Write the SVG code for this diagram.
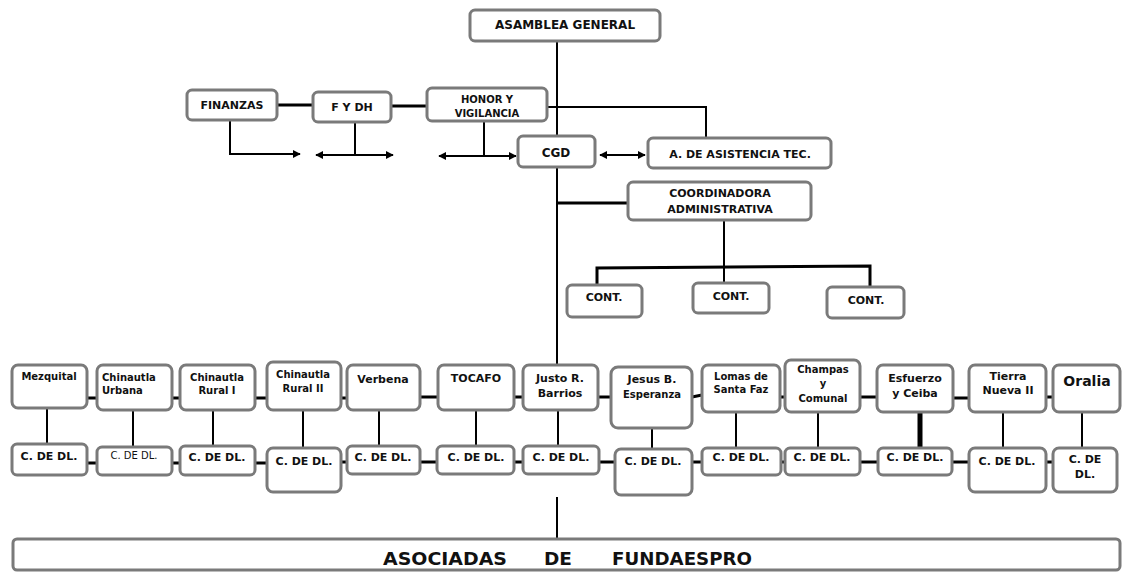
<svg xmlns="http://www.w3.org/2000/svg" width="1124" height="572" viewBox="0 0 1124 572">
<style>
.b{fill:#fff;stroke:#7a7a7a;stroke-width:3}
.t{font-family:"DejaVu Sans",Verdana,sans-serif;font-weight:bold;font-size:11px;fill:#111;text-anchor:middle}
.s{font-size:10px}
.a{font-family:"DejaVu Sans",Verdana,sans-serif;font-weight:bold;font-size:18px;fill:#111}
.c{stroke:#000;stroke-width:2;fill:none}
.k{stroke:#000;stroke-width:3;fill:none}
</style>
<defs>
<marker id="ah" viewBox="0 0 10 10" refX="9" refY="5" markerWidth="4" markerHeight="4" orient="auto-start-reverse"><path d="M0,0L10,5L0,10z" fill="#000"/></marker>
</defs>
<rect width="1124" height="572" fill="#fff"/>
<g id="connectors">
<path class="c" d="M557,41V365"/>
<path class="c" d="M547,107H706V137"/>
<path class="k" d="M277,105H313"/>
<path class="k" d="M391,106H427"/>
<path class="c" d="M230,120V154H300" marker-end="url(#ah)"/>
<path class="c" d="M355,122V155"/>
<path class="c" d="M316,155H393" marker-start="url(#ah)" marker-end="url(#ah)"/>
<path class="c" d="M484,121V155"/>
<path class="c" d="M439,156H516" marker-start="url(#ah)" marker-end="url(#ah)"/>
<path class="c" d="M600,155H645" marker-start="url(#ah)" marker-end="url(#ah)"/>
<path class="k" d="M557,203H628"/>
<path class="c" d="M724,220V284"/>
<path class="k" d="M597,285V268L870,266V287"/>
<path class="c" d="M557,497V538"/>
<g class="k">
<path d="M87,398H97M172,398H180M255,398H267M341,398H347M420,397H438M514,397H523M598,397H611M692,397L702,395M780,397H785M860,397H877M953,398H969M1046,397H1053"/>
<path d="M87,463H97M172,463H180M255,463H267M341,462H347M420,462H437M514,462H523M599,462H615M692,462H702M781,462H785M860,462H878M952,462H969M1046,462H1053"/>
</g>
<g class="c">
<path d="M47,408V444M133,410V447M213,410V446M303,410V448M379,410V446M476,410V446M558,410V446M652,428V449M736,412V448M818,412V448M1003,412V448M1082,412V448"/>
</g>
<path d="M920,412V448" stroke="#000" stroke-width="5"/>
</g>
<g id="asamblea"><rect class="b" x="470" y="10" width="190" height="31" rx="5"/><text class="t" x="565" y="29" style="font-size:12px">ASAMBLEA GENERAL</text></g>
<g id="finanzas"><rect class="b" x="187" y="90" width="90" height="30" rx="5"/><text class="t" x="232" y="109">FINANZAS</text></g>
<g id="fydh"><rect class="b" x="313" y="92" width="78" height="30" rx="5"/><text class="t" x="352" y="111">F Y DH</text></g>
<g id="honor"><rect class="b" x="427" y="88" width="120" height="33" rx="5"/><text class="t s" x="487" y="103">HONOR Y</text><text class="t s" x="487" y="117">VIGILANCIA</text></g>
<g id="cgd"><rect class="b" x="518" y="136" width="77" height="31" rx="5"/><text class="t" x="556" y="157" style="font-size:12px">CGD</text></g>
<g id="asistencia"><rect class="b" x="648" y="138" width="183" height="30" rx="5"/><text class="t" x="740" y="158">A. DE ASISTENCIA TEC.</text></g>
<g id="coordinadora"><rect class="b" x="628" y="182" width="183" height="38" rx="5"/><text class="t" x="720" y="197">COORDINADORA</text><text class="t" x="720" y="213">ADMINISTRATIVA</text></g>
<g id="cont1"><rect class="b" x="567" y="285" width="75" height="32" rx="5"/><text class="t" x="604" y="301">CONT.</text></g>
<g id="cont2"><rect class="b" x="693" y="283" width="76" height="30" rx="5"/><text class="t" x="731" y="300">CONT.</text></g>
<g id="cont3"><rect class="b" x="827" y="287" width="77" height="31" rx="5"/><text class="t" x="866" y="304">CONT.</text></g>

<g id="mezquital"><rect class="b" x="12" y="365" width="75" height="43" rx="6"/><text class="t s" x="49" y="380">Mezquital</text></g>
<g id="chinurbana"><rect class="b" x="97" y="365" width="75" height="45" rx="6"/><text class="t s" x="102" y="381" style="text-anchor:start">Chinautla</text><text class="t s" x="102" y="394" style="text-anchor:start">Urbana</text></g>
<g id="chinrural1"><rect class="b" x="180" y="365" width="75" height="45" rx="6"/><text class="t s" x="217" y="381">Chinautla</text><text class="t s" x="217" y="394">Rural I</text></g>
<g id="chinrural2"><rect class="b" x="267" y="362" width="74" height="48" rx="6"/><text class="t s" x="303" y="378">Chinautla</text><text class="t s" x="303" y="392">Rural II</text></g>
<g id="verbena"><rect class="b" x="347" y="365" width="73" height="45" rx="6"/><text class="t" x="383" y="383">Verbena</text></g>
<g id="tocafo"><rect class="b" x="438" y="365" width="76" height="45" rx="6"/><text class="t" x="476" y="382">TOCAFO</text></g>
<g id="justo"><rect class="b" x="523" y="365" width="75" height="45" rx="6"/><text class="t" x="560" y="382">Justo R.</text><text class="t" x="560" y="397">Barrios</text></g>
<g id="jesus"><rect class="b" x="611" y="367" width="81" height="61" rx="7"/><text class="t" x="652" y="383">Jesus B.</text><text class="t s" x="652" y="398">Esperanza</text></g>
<g id="lomas"><rect class="b" x="702" y="365" width="78" height="47" rx="6"/><text class="t s" x="741" y="380">Lomas de</text><text class="t s" x="741" y="393">Santa Faz</text></g>
<g id="champas"><rect class="b" x="785" y="360" width="75" height="52" rx="6"/><text class="t s" x="823" y="373">Champas</text><text class="t s" x="823" y="387">y</text><text class="t s" x="823" y="402">Comunal</text></g>
<g id="esfuerzo"><rect class="b" x="877" y="365" width="76" height="47" rx="6"/><text class="t" x="915" y="382">Esfuerzo</text><text class="t" x="915" y="397">y Ceiba</text></g>
<g id="tierra"><rect class="b" x="969" y="365" width="77" height="47" rx="6"/><text class="t" x="1008" y="380">Tierra</text><text class="t" x="1008" y="394">Nueva II</text></g>
<g id="oralia"><rect class="b" x="1053" y="365" width="67" height="47" rx="6"/><text class="t" x="1087" y="386" style="font-size:14px">Oralia</text></g>

<g id="cdl1"><rect class="b" x="12" y="444" width="75" height="31" rx="5"/><text class="t" x="49" y="460">C. DE DL.</text></g>
<g id="cdl2"><rect class="b" x="97" y="447" width="75" height="28" rx="5"/><text class="t s" x="134" y="459" style="font-weight:normal">C. DE DL.</text></g>
<g id="cdl3"><rect class="b" x="180" y="446" width="75" height="29" rx="5"/><text class="t" x="217" y="461">C. DE DL.</text></g>
<g id="cdl4"><rect class="b" x="267" y="448" width="74" height="44" rx="6"/><text class="t" x="304" y="465">C. DE DL.</text></g>
<g id="cdl5"><rect class="b" x="347" y="446" width="73" height="28" rx="5"/><text class="t" x="383" y="461">C. DE DL.</text></g>
<g id="cdl6"><rect class="b" x="437" y="446" width="77" height="28" rx="5"/><text class="t" x="476" y="461">C. DE DL.</text></g>
<g id="cdl7"><rect class="b" x="523" y="446" width="76" height="28" rx="5"/><text class="t" x="561" y="461">C. DE DL.</text></g>
<g id="cdl8"><rect class="b" x="615" y="449" width="77" height="46" rx="6"/><text class="t" x="653" y="465">C. DE DL.</text></g>
<g id="cdl9"><rect class="b" x="702" y="448" width="79" height="27" rx="5"/><text class="t" x="741" y="461">C. DE DL.</text></g>
<g id="cdl10"><rect class="b" x="785" y="448" width="75" height="27" rx="5"/><text class="t" x="822" y="461">C. DE DL.</text></g>
<g id="cdl11"><rect class="b" x="878" y="448" width="74" height="27" rx="5"/><text class="t" x="915" y="461">C. DE DL.</text></g>
<g id="cdl12"><rect class="b" x="969" y="448" width="77" height="44" rx="6"/><text class="t" x="1007" y="465">C. DE DL.</text></g>
<g id="cdl13"><rect class="b" x="1053" y="448" width="64" height="44" rx="6"/><text class="t" x="1085" y="463">C. DE</text><text class="t" x="1085" y="478">DL.</text></g>

<g id="asociadas"><rect class="b" x="13" y="539" width="1107" height="31" rx="4"/>
<text class="a" x="383" y="565" textLength="124" lengthAdjust="spacingAndGlyphs">ASOCIADAS</text>
<text class="a" x="544" y="565" textLength="28" lengthAdjust="spacingAndGlyphs">DE</text>
<text class="a" x="612" y="565" textLength="140" lengthAdjust="spacingAndGlyphs">FUNDAESPRO</text></g>
</svg>
